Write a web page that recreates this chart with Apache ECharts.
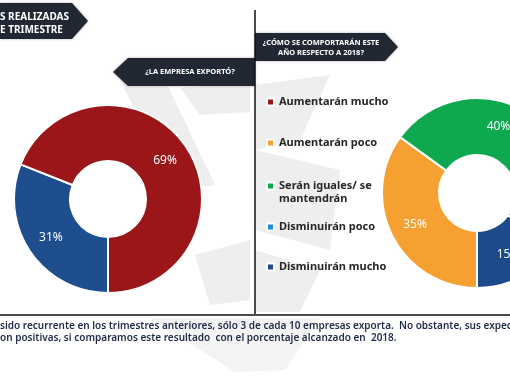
<!DOCTYPE html>
<html><head><meta charset="utf-8">
<script src="https://cdn.jsdelivr.net/npm/echarts@6/dist/echarts.min.js"></script>
<style>html,body{margin:0;padding:0;background:#fff}#c{width:510px;height:382px}</style>
</head><body><div id="c"></div>
<script>
// Left donut: ¿La empresa exportó?
var leftCategories = ['Sí', 'No'];
var leftValues = [31, 69];
// Right donut: ¿Cómo se comportarán este año respecto a 2018?
var rightCategories = ['Aumentarán poco', 'Serán iguales/ se mantendrán', 'Disminuirán poco', 'Disminuirán mucho', 'Aumentarán mucho'];
var rightValues = [35, 40, 10, 15, 0];
var legendOrder = ['Aumentarán mucho', 'Aumentarán poco', 'Serán iguales/ se mantendrán', 'Disminuirán poco', 'Disminuirán mucho'];

var leftColors = {'Sí': '#1f4e8e', 'No': '#9a1618'};
var rightColors = {
  'Aumentarán mucho': '#9a1618',
  'Aumentarán poco': '#f7a032',
  'Serán iguales/ se mantendrán': '#0ea84e',
  'Disminuirán poco': '#1a8fdf',
  'Disminuirán mucho': '#1d4a8a'
};
var legendTops = [95.5, 136.5, 166.5, 220.5, 260.5];

var chart = echarts.init(document.getElementById('c'), null, {renderer: 'canvas'});
var FONT = '"Noto Sans", sans-serif';
var wm = '#eeeeee';

var legends = legendOrder.map(function (n, i) {
  return {
    data: [n], left: 266, top: legendTops[i], padding: 0, orient: 'vertical',
    icon: 'rect', itemWidth: 7, itemHeight: 7, selectedMode: false,
    formatter: function (name) {
      return name === 'Serán iguales/ se mantendrán' ? '\nSerán iguales/ se\nmantendrán' : name;
    },
    textStyle: {fontFamily: FONT, fontSize: 11, fontWeight: 'bold', color: '#262626', lineHeight: 13}
  };
});

function lbl(p) { return p.value > 0 ? p.value + '%' : ''; }

chart.setOption({
  animation: false,
  backgroundColor: '#ffffff',
  legend: legends,
  graphic: [
    // faint watermark shapes
    {type: 'polygon', z: 0, shape: {points: [[120,80],[165,80],[215,185],[175,190]]}, style: {fill: wm}},
    {type: 'polygon', z: 0, shape: {points: [[180,88],[250,82],[250,112],[200,115]]}, style: {fill: wm}},
    {type: 'polygon', z: 0, shape: {points: [[195,255],[250,240],[250,300],[210,305]]}, style: {fill: wm}},
    {type: 'polygon', z: 0, shape: {points: [[255,85],[330,75],[300,140],[255,150]]}, style: {fill: wm}},
    {type: 'polygon', z: 0, shape: {points: [[255,150],[340,170],[330,250],[255,230]]}, style: {fill: wm}},
    {type: 'polygon', z: 0, shape: {points: [[255,250],[320,270],[300,312],[255,312]]}, style: {fill: wm}},
    {type: 'polygon', z: 0, shape: {points: [[150,318],[320,318],[285,370],[235,372]]}, style: {fill: '#f3f3f3'}},
    // title boxes
    {type: 'polygon', z: 10, shape: {points: [[0,3],[72,3],[88,21],[72,39],[0,39]]},
      style: {fill: '#212833', shadowBlur: 3, shadowColor: 'rgba(0,0,0,0.3)'}},
    {type: 'text', z: 11, left: 0, top: 11, style: {text: 'S REALIZADAS\nE TRIMESTRE', fill: '#ffffff', font: 'bold 10px ' + FONT, lineHeight: 13}},
    {type: 'polygon', z: 10, shape: {points: [[113,72],[128,58],[255,58],[255,86],[128,86]]},
      style: {fill: '#212833', shadowBlur: 3, shadowColor: 'rgba(0,0,0,0.3)'}},
    {type: 'text', z: 11, x: 190, y: 72, style: {text: '¿LA EMPRESA EXPORTÓ?', fill: '#ffffff', font: 'bold 7.5px ' + FONT, align: 'center', verticalAlign: 'middle'}},
    {type: 'polygon', z: 10, shape: {points: [[255,33],[385,33],[398,47],[385,61],[255,61]]},
      style: {fill: '#212833', shadowBlur: 3, shadowColor: 'rgba(0,0,0,0.3)'}},
    {type: 'text', z: 11, x: 321, y: 48, style: {text: '¿CÓMO SE COMPORTARÁN ESTE\nAÑO RESPECTO A 2018?', fill: '#ffffff', font: 'bold 7.5px ' + FONT, align: 'center', verticalAlign: 'middle', lineHeight: 10}},
    // divider lines
    {type: 'line', z: 12, shape: {x1: 255, y1: 10, x2: 255, y2: 314}, style: {stroke: '#111', lineWidth: 1.5}},
    {type: 'line', z: 12, shape: {x1: 0, y1: 315, x2: 510, y2: 315}, style: {stroke: '#111', lineWidth: 1.5}},
    // bottom note
    {type: 'text', z: 11, left: 0, top: 320, style: {
      text: 'sido recurrente en los trimestres anteriores, sólo 3 de cada 10 empresas exporta.  No obstante, sus expectativas\non positivas, si comparamos este resultado  con el porcentaje alcanzado en  2018.',
      fill: '#1e2a48', font: '600 10px ' + FONT, lineHeight: 12}}
  ],
  series: [
    {
      type: 'pie', name: '¿La empresa exportó?', center: [108, 199], radius: [38, 94],
      startAngle: 270, clockwise: true, legendHoverLink: false, silent: true,
      itemStyle: {borderColor: '#ffffff', borderWidth: 2},
      label: {position: 'inside', formatter: lbl, color: '#ffffff', fontFamily: FONT, fontSize: 12},
      labelLine: {show: false},
      data: leftCategories.map(function (c, i) {
        return {name: c, value: leftValues[i], itemStyle: {color: leftColors[c]}};
      })
    },
    {
      type: 'pie', name: '¿Cómo se comportarán?', center: [477, 193], radius: [38, 95],
      startAngle: 270, clockwise: true, silent: true,
      itemStyle: {borderColor: '#ffffff', borderWidth: 2},
      label: {position: 'inside', formatter: lbl, color: '#ffffff', fontFamily: FONT, fontSize: 12},
      labelLine: {show: false},
      data: rightCategories.map(function (c, i) {
        return {name: c, value: rightValues[i], itemStyle: {color: rightColors[c]}};
      })
    }
  ]
});
</script>
</body></html>
